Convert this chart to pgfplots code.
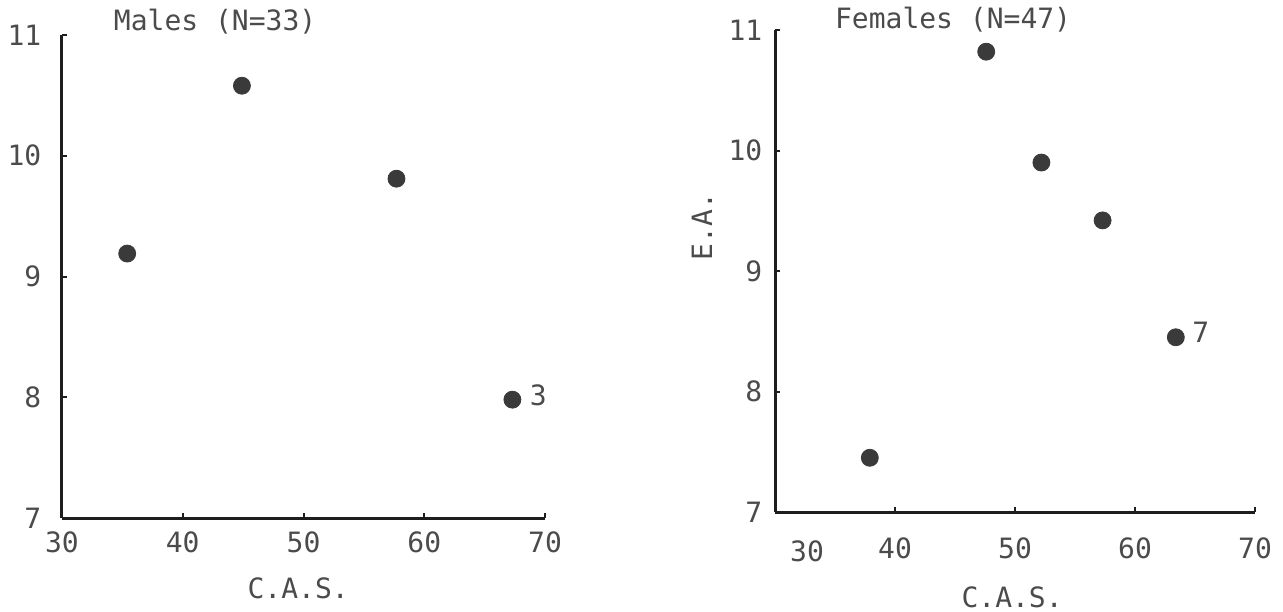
\documentclass[border=0pt]{standalone}
\usepackage{pgfplots}
\pgfplotsset{compat=1.18}
\usepackage{fontspec}
\setmainfont{DejaVu Sans Mono}
\definecolor{dot}{RGB}{58,58,58}
\definecolor{ink}{RGB}{30,30,30}
\definecolor{txt}{RGB}{75,75,75}
\newcommand{\fs}{\fontsize{14pt}{16.5pt}\selectfont}
\pgfplotsset{panel/.style={
  scale only axis,
  xmin=30, xmax=70, ymin=7, ymax=11,
  enlargelimits=false,
  axis lines=left,
  axis line style={-, line width=1.5pt, color=ink},
  tick align=inside,
  major tick length=2.5pt,
  tick style={line width=1pt, color=ink},
  ytick={7,8,9,10,11}, yticklabels={7,8,9,10,11},
  tick label style={font=\fs, text=txt},
  clip=false,
  anchor=south west,
}}
\begin{document}
\begin{tikzpicture}[font=\fs]
\useasboundingbox (0,0) rectangle (641.5pt,305.5pt);
% Left panel: Males
\begin{axis}[panel,
  at={(31pt,46.5pt)}, width=241.5pt, height=241.5pt,
  xtick={30,40,50,60,70}, xticklabels={30,40,50,60,70},
  xticklabel style={yshift=-3.2pt},
  yticklabel style={xshift=-6.8pt},
]
\addplot[only marks, mark=*, mark size=4.25pt, color=dot] coordinates {
  (35.4,9.19) (44.9,10.58) (57.7,9.81) (67.3,7.98)
};
\node[text=txt] at (axis cs:67.3,7.98) [xshift=13pt, yshift=2pt] {3};
\node[text=txt] at (rel axis cs:0.317,1) [yshift=6.5pt] {Males (N=33)};
\node[text=txt] at (rel axis cs:0.489,0) [yshift=-35pt] {C.A.S.};
\end{axis}
% Right panel: Females
\begin{axis}[panel,
  at={(387.5pt,49.5pt)}, width=240pt, height=241pt,
  xtick={40,50,60,70}, xticklabels={40,50,60,70},
  xticklabel style={yshift=-9.5pt},
  yticklabel style={xshift=-2.8pt},
]
\addplot[only marks, mark=*, mark size=4.25pt, color=dot] coordinates {
  (37.9,7.45) (47.6,10.82) (52.2,9.90) (57.3,9.42) (63.4,8.45)
};
\node[text=txt] at (axis cs:63.4,8.45) [xshift=12.5pt, yshift=2.5pt] {7};
\node[text=txt] at (axis cs:32.67,7) [yshift=-19.5pt] {30};
\node[text=txt] at (rel axis cs:0.371,1) [yshift=5pt] {Females (N=47)};
\node[text=txt] at (rel axis cs:0.494,0) [yshift=-42.5pt] {C.A.S.};
\node[text=txt, rotate=90] at (axis cs:30,9.37) [yshift=36.5pt] {E.A.};
\end{axis}
\end{tikzpicture}
\end{document}
